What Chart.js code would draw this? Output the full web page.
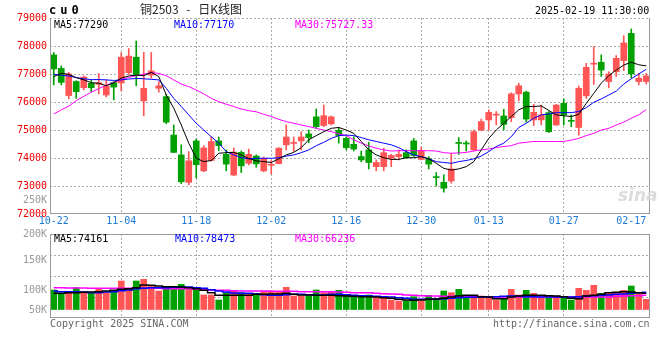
<!DOCTYPE html>
<html>
<head>
<meta charset="utf-8">
<script src="https://cdn.jsdelivr.net/npm/chart.js@4.4.1/dist/chart.umd.min.js"></script>
<style>
html, body { margin: 0; padding: 0; background: #fff; }
#wrap { position: relative; width: 660px; height: 360px; overflow: hidden;
  font-family: 'DejaVu Sans Mono', monospace; font-size: 10px; line-height: 12px; }
#wrap canvas { position: absolute; left: 0; top: 0; }
.t { position: absolute; white-space: pre; }
</style>
</head>
<body>
<div id="wrap">
  <canvas id="kline" width="660" height="360"></canvas>
  <canvas id="vol" width="660" height="360"></canvas>

  <div class="t" style="left:49px;top:4px;font-weight:bold;font-size:12px;letter-spacing:4px;">cu0</div>
  <div class="t" style="left:140px;top:2px;font-family:'Noto Sans CJK SC';font-size:12px;line-height:14px;word-spacing:5px;color:#222;">铜2503 - 日K线图</div>
  <div class="t" style="left:535px;top:5px;">2025-02-19 11:30:00</div>

  <div class="t" style="left:54px;top:19px;color:#000;">MA5:77290</div>
  <div class="t" style="left:174px;top:19px;color:#0000ff;">MA10:77170</div>
  <div class="t" style="left:295px;top:19px;color:#ff00ff;">MA30:75727.33</div>

  <div class="t" style="left:54px;top:233px;color:#000;">MA5:74161</div>
  <div class="t" style="left:175px;top:233px;color:#0000ff;">MA10:78473</div>
  <div class="t" style="left:295px;top:233px;color:#ff00ff;">MA30:66236</div>

  <div class="t" style="left:50px;top:318px;color:#666;">Copyright 2025 SINA.COM</div>
  <div class="t" style="left:493px;top:318px;color:#666;">http://finance.sina.com.cn</div>
  <div class="t" style="left:618px;top:185px;font-family:'DejaVu Sans';font-style:italic;font-weight:bold;font-size:17px;line-height:20px;color:#dcdcdc;">sina</div>
</div>

<script>
// trading days shown on the chart
const dates = ['10-22','10-23','10-24','10-25','10-28','10-29','10-30','10-31','11-01','11-04',
  '11-05','11-06','11-07','11-08','11-11','11-12','11-13','11-14','11-15','11-18',
  '11-19','11-20','11-21','11-22','11-25','11-26','11-27','11-28','11-29','12-02',
  '12-03','12-04','12-05','12-06','12-09','12-10','12-11','12-12','12-13','12-16',
  '12-17','12-18','12-19','12-20','12-23','12-24','12-25','12-26','12-27','12-30',
  '12-31','01-02','01-03','01-06','01-07','01-08','01-09','01-10','01-13','01-14',
  '01-15','01-16','01-17','01-20','01-21','01-22','01-23','01-24','01-27','02-05',
  '02-06','02-07','02-10','02-11','02-12','02-13','02-14','02-17','02-18','02-19'];
const xTicks = ['10-22','11-04','11-18','12-02','12-16','12-30','01-13','01-27','02-17'];

// daily candles
const opens = [77680,77200,76230,76730,76510,76670,76630,76250,76690,76680,
  77050,77600,76040,76960,76490,76190,74820,74110,73130,74610,
  73540,73910,74610,74130,73390,74200,73810,74070,73540,73740,
  73800,74470,74520,74610,74860,75470,75160,75220,74990,74700,
  74490,74050,74290,73690,73690,73990,74050,74190,74610,73950,
  73970,73320,73130,73180,74530,74510,74290,75000,75360,75530,
  75500,75440,76290,76350,75360,75360,75620,75180,75950,75330,
  75090,76220,77350,77420,76730,77080,77480,78450,76730,76730];
const highs = [77770,77290,77060,76760,76930,76790,77020,76790,76730,77760,
  77910,78180,77770,77770,76730,76280,75180,74470,74230,74680,
  74440,74760,74750,74290,74360,74250,74320,74110,74030,73910,
  74370,75180,74750,74940,75000,75750,75890,75500,75090,74760,
  74760,74250,74560,73930,74350,74130,74290,74290,74700,74380,
  74050,73480,73400,74170,74730,74610,75000,75390,75720,75660,
  75740,76330,76670,76390,75920,75890,75660,75920,76110,75540,
  76570,77380,77980,77680,77080,77660,78370,78610,77020,77020];
const lows = [76610,76610,76110,76130,76430,76370,76290,76180,76070,76400,
  76980,76580,75510,76850,76350,75220,74200,73080,73040,73290,
  73510,73890,74260,73540,73370,73480,73750,73670,73510,73430,
  73790,74290,74230,74290,74550,75060,75120,75180,74530,74290,
  74250,73870,73610,73540,73540,73690,73930,73990,74050,73930,
  73610,73000,72780,73100,74130,74250,74250,74970,75000,75180,
  75000,75300,76040,75280,75160,75180,74910,75160,75180,75120,
  74820,76130,76630,76910,76510,76910,77120,76870,76610,76640];
const closes = [77180,76700,77000,76370,76890,76510,76690,76570,76530,77600,
  77640,76960,76490,77110,76580,75280,74200,73150,73900,73760,
  74360,74590,74440,73780,74210,73720,74130,73790,73990,73760,
  74350,74750,74540,74750,74730,75120,75510,75470,74800,74370,
  74320,73930,73840,73840,74190,74090,74130,74010,74090,74260,
  73780,73300,72920,73610,74520,74500,74940,75300,75630,75550,
  75200,76290,76580,75390,75630,75540,74940,75890,75540,75310,
  76490,77240,77370,77140,77000,77560,78110,77000,76850,76930];

// price moving averages
const ma5 = [76910,77020,76990,76870,76790,76690,76670,76580,76690,76850,
  76930,76960,76940,77060,76910,76250,75780,75180,74530,73990,
  73870,73910,74170,74190,74200,74110,73980,73900,73870,73840,
  73970,74110,74200,74370,74650,74800,74940,75060,75090,75000,
  74880,74590,74290,74110,74010,73950,73950,74010,74010,74050,
  73970,73810,73630,73570,73610,73690,73870,74290,74700,75000,
  75240,75480,75720,75840,75840,75860,75700,75540,75510,75480,
  75560,75950,76310,76670,76940,77140,77320,77420,77330,77290];
const ma10 = [76990,76960,76930,76870,76830,76800,76800,76790,76770,76790,
  76820,76840,76830,76810,76790,76490,76130,75840,75540,75240,
  75000,74760,74530,74230,74110,74010,73970,73990,73990,73990,
  74010,74070,74110,74190,74290,74440,74560,74700,74800,74820,
  74800,74730,74650,74590,74530,74470,74370,74230,74110,74050,
  73970,73870,73840,73810,73870,73910,73970,74070,74230,74410,
  74530,74760,75090,75240,75420,75540,75570,75620,75620,75620,
  75660,75800,75990,76110,76250,76390,76640,76830,77000,77170];
const ma30 = [75570,75720,75850,76050,76200,76350,76480,76600,76700,76790,
  76880,76940,76990,77050,77020,76940,76790,76640,76550,76430,
  76290,76130,76010,75920,75840,75750,75690,75650,75560,75480,
  75380,75300,75240,75180,75120,75060,75000,74940,74860,74800,
  74650,74530,74430,74350,74290,74250,74260,74260,74260,74260,
  74260,74250,74190,74170,74180,74200,74250,74290,74320,74370,
  74410,74440,74530,74560,74590,74590,74590,74590,74590,74640,
  74700,74800,74880,75000,75060,75180,75280,75420,75540,75730];

// volume (thousand lots) and its moving averages
const volumes = [100,91.7,95.8,105.8,93.3,93.3,104.2,93.3,99.2,122.5,
  103.3,122.5,126.7,110,97.5,105.8,108.3,114.2,105.8,101.7,
  87.5,87.5,75,93.3,99.2,93.3,91.7,91.7,95.8,97.5,
  95.8,106.7,85,85,85,100,93.3,95,99.2,87.5,
  82.5,83.3,87.5,82.5,82.5,75,72.5,72.5,83.3,72.5,
  86.7,79.2,97.5,93.3,101.7,83.3,82.5,85,82.5,75,
  78.3,101.7,87.5,99.2,91.7,79.2,79.2,85,79.2,75,
  104.2,99.2,111.7,91.7,91.7,91.7,99.2,110,91.7,76.7];
const volMa5 = [91.7,91.7,93.3,93.3,94.2,95.0,95.8,97.5,99.2,101.7,
  103.3,105.8,112.5,111.7,110.0,108.3,108.3,107.5,105.8,103.3,
  99.2,93.3,86.7,86.7,86.7,86.7,86.7,89.2,89.2,90.0,
  90.0,91.7,89.2,87.5,87.5,86.7,86.7,86.7,85.8,85.0,
  84.2,83.3,83.3,82.5,80.8,79.2,76.7,75.0,74.2,75.0,
  76.7,77.5,79.2,82.5,85.0,86.7,86.7,83.3,82.5,78.3,
  78.3,82.5,85.0,86.7,86.7,86.7,85.8,85.0,83.3,79.2,
  78.3,85.0,86.7,89.2,93.3,94.2,95.8,95.0,93.3,91.7];
const volMa10 = [97.5,95.8,95.8,95.8,95.0,93.3,93.3,95.0,95.8,98.3,
  100.0,103.3,104.2,105.8,105.8,105.8,106.7,107.5,107.5,105.8,
  104.2,100.8,97.5,95.0,92.5,91.7,91.7,90.0,88.3,86.7,
  86.7,88.3,89.2,89.2,88.3,87.5,87.5,89.2,89.2,88.3,
  86.7,85.8,85.0,84.2,83.3,82.5,80.8,79.2,76.7,76.7,
  76.7,76.7,78.3,79.2,80.8,81.7,81.7,82.5,82.5,83.3,
  84.2,85.0,84.2,83.3,83.3,82.5,82.5,82.5,82.5,82.5,
  83.3,85.0,85.8,86.7,87.5,89.2,90.0,91.7,93.3,94.2];
const volMa30 = [105.8,105.8,105.0,105.0,105.0,104.2,104.2,104.2,104.2,104.2,
  104.2,104.2,104.2,104.2,104.2,103.3,103.3,103.3,103.3,101.7,
  100.8,100.0,99.2,99.2,98.3,97.5,97.5,97.5,97.5,96.7,
  96.7,96.7,96.7,95.8,95.8,95.8,95.8,95.8,95.0,94.2,
  93.3,93.3,93.3,91.7,90.8,90.0,89.2,87.5,86.7,85.8,
  85.0,85.0,84.2,84.2,83.3,83.3,83.3,82.5,82.5,82.5,
  82.5,82.5,82.5,83.3,83.3,83.3,83.3,82.5,82.5,82.5,
  82.5,82.5,82.5,82.5,82.5,84.2,85.0,85.8,85.8,86.7];

// axis labels
const priceTicks = [72000,73000,74000,75000,76000,77000,78000,79000];
const strayTick = { value: 72500, text: '250K' };   // volume label that sits in the price panel
const volGrid = [82.5, 135, 187.5];
const volLabelAt = [50, 100, 175, 240];
const volLabels = ['50K', '100K', '150K', '200K'];

const UP = '#ff5555', DOWN = '#00a000', GRID = '#aaaaaa';
const candleColors = closes.map((c, i) => c >= opens[i] ? UP : DOWN);
const gridDates = xTicks.slice(1, -1);

Chart.defaults.font.family = "'DejaVu Sans Mono', monospace";
Chart.defaults.font.size = 10;

// solid frame round the plot area
const framePlugin = {
  id: 'frame',
  afterDraw(chart, args, opts) {
    const { ctx, chartArea: a } = chart;
    ctx.save();
    ctx.strokeStyle = '#9a9a9a';
    ctx.lineWidth = 1;
    ctx.beginPath();
    if (opts.top) { ctx.moveTo(a.left, a.top + 0.5); ctx.lineTo(a.right, a.top + 0.5); }
    ctx.moveTo(a.left + 0.5, a.top); ctx.lineTo(a.left + 0.5, a.bottom);
    ctx.moveTo(a.right - 0.5, a.top); ctx.lineTo(a.right - 0.5, a.bottom);
    ctx.moveTo(a.left, a.bottom - 0.5); ctx.lineTo(a.right, a.bottom - 0.5);
    ctx.stroke();
    ctx.restore();
  }
};

const maLine = (data, color, width, stepped) => ({
  type: 'line', data, borderColor: color, borderWidth: width,
  pointRadius: 0, tension: 0, stepped: stepped || false, order: 0
});

const xAxis = (showLabels) => ({
  offset: true,
  grid: { offset: false, drawTicks: false, color: c => gridDates.includes(dates[c.index]) ? GRID : 'transparent' },
  border: { display: false, dash: [2, 2] },
  ticks: {
    display: showLabels, autoSkip: false, maxRotation: 0, minRotation: 0, padding: 1, color: '#1c7ad4',
    callback: (v, i) => xTicks.includes(dates[i]) ? dates[i] : ''
  },
  afterFit: s => { s.height = showLabels ? 20 : 0; }
});

new Chart(document.getElementById('kline'), {
  type: 'bar',
  data: {
    labels: dates,
    datasets: [
      maLine(ma5, '#000000', 1),
      maLine(ma10, '#0000ff', 1),
      maLine(ma30, '#ff00ff', 1),
      { data: lows.map((l, i) => [l, highs[i]]), backgroundColor: candleColors, barThickness: 1, grouped: false, order: 2 },
      { data: opens.map((o, i) => [o, closes[i]]), backgroundColor: candleColors, barThickness: 6, minBarLength: 1, grouped: false, order: 1 }
    ]
  },
  options: {
    responsive: false, animation: false, devicePixelRatio: 1,
    layout: { padding: { top: 18, right: 10, bottom: 126, left: 0 } },
    plugins: { legend: { display: false }, tooltip: { enabled: false }, frame: { top: false } },
    scales: {
      x: xAxis(true),
      y: {
        min: 72000, max: 79000,
        afterBuildTicks: s => { s.ticks = priceTicks.concat(strayTick.value).sort((a, b) => a - b).map(v => ({ value: v })); },
        afterFit: s => { s.width = 50; },
        grid: { drawTicks: false, color: c => c.tick.value > strayTick.value ? GRID : 'transparent' },
        border: { display: false, dash: [2, 2] },
        ticks: {
          autoSkip: false, padding: 3,
          color: c => c.tick.value === strayTick.value ? '#999999' : '#ee0000',
          callback: v => v === strayTick.value ? strayTick.text : String(v)
        }
      }
    }
  },
  plugins: [framePlugin]
});

new Chart(document.getElementById('vol'), {
  type: 'bar',
  data: {
    labels: dates,
    datasets: [
      maLine(volMa5, '#000000', 1.5, 'middle'),
      maLine(volMa10, '#0000ff', 1.5, 'middle'),
      maLine(volMa30, '#ff00ff', 1.5, 'middle'),
      { data: volumes, base: 50, backgroundColor: candleColors, barThickness: 6, order: 1 }
    ]
  },
  options: {
    responsive: false, animation: false, devicePixelRatio: 1,
    layout: { padding: { top: 234, right: 10, bottom: 42, left: 0 } },
    plugins: { legend: { display: false }, tooltip: { enabled: false }, frame: { top: true } },
    scales: {
      x: xAxis(false),
      y: {
        min: 30, max: 240,
        afterBuildTicks: s => { s.ticks = volGrid.concat(volLabelAt).sort((a, b) => a - b).map(v => ({ value: v })); },
        afterFit: s => { s.width = 50; },
        grid: { drawTicks: false, color: c => volGrid.includes(c.tick.value) ? GRID : 'transparent' },
        border: { display: false, dash: [2, 2] },
        ticks: {
          autoSkip: false, padding: 3, color: '#999999',
          callback: v => { const k = volLabelAt.indexOf(v); return k >= 0 ? volLabels[k] : ''; }
        }
      }
    }
  },
  plugins: [framePlugin]
});
</script>
</body>
</html>
